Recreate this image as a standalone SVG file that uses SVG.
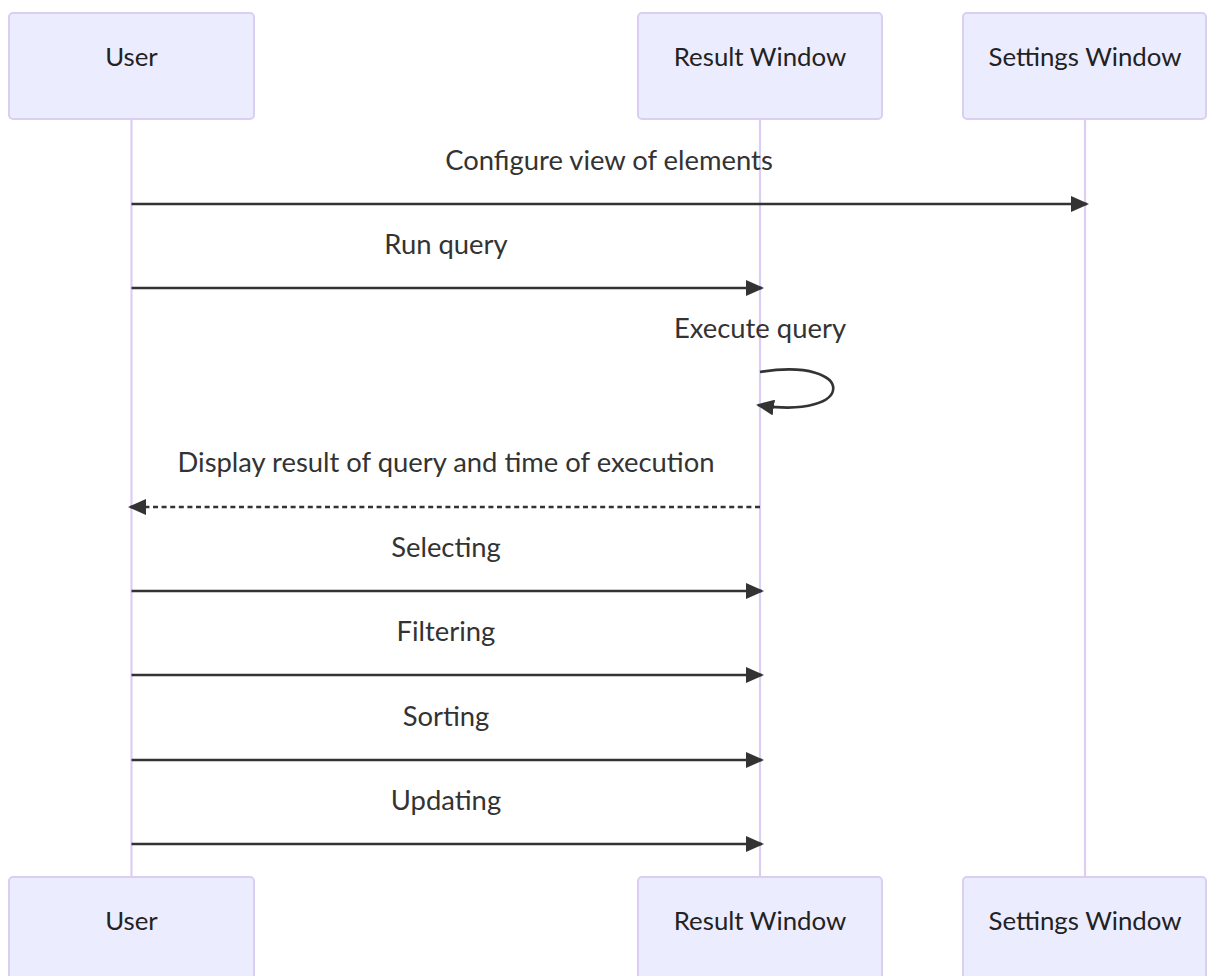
<svg xmlns="http://www.w3.org/2000/svg" width="1207" height="976" viewBox="0 0 1207 976">
<style>
.actor{fill:#ECECFF;stroke:#DACEF3;stroke-width:2}
.atext{font-family:Lato,"Liberation Sans",sans-serif;font-size:25.8px;fill:#222;text-anchor:middle}
.life{stroke:#DACEF3;stroke-width:2.2}
.msg{stroke:#333;stroke-width:2.6;fill:none}
.dash{stroke-dasharray:5,3.6}
.mtext{font-family:Lato,"Liberation Sans",sans-serif;font-size:27.4px;fill:#333;text-anchor:middle}
</style>
<defs>
<marker id="arrow" markerUnits="userSpaceOnUse" viewBox="0 0 18 16" refX="16" refY="8" markerWidth="18" markerHeight="16" orient="auto">
<path d="M0,0 L18,8 L0,16 Z" fill="#333"/>
</marker>
</defs>
<rect width="1207" height="976" fill="#fff"/>
<g id="lifelines">
<line class="life" x1="131.5" y1="119" x2="131.5" y2="877"/>
<line class="life" x1="760" y1="119" x2="760" y2="877"/>
<line class="life" x1="1085" y1="119" x2="1085" y2="877"/>
</g>
<g id="user-top"><rect class="actor" x="9" y="13" width="245" height="106" rx="4"/><text class="atext" x="131.5" y="66">User</text></g>
<g id="result-top"><rect class="actor" x="638" y="13" width="244" height="106" rx="4"/><text class="atext" x="760" y="66">Result Window</text></g>
<g id="settings-top"><rect class="actor" x="963" y="13" width="243" height="106" rx="4"/><text class="atext" x="1085" y="66">Settings Window</text></g>
<g id="user-bottom"><rect class="actor" x="9" y="877" width="245" height="106" rx="4"/><text class="atext" x="131.5" y="930">User</text></g>
<g id="result-bottom"><rect class="actor" x="638" y="877" width="244" height="106" rx="4"/><text class="atext" x="760" y="930">Result Window</text></g>
<g id="settings-bottom"><rect class="actor" x="963" y="877" width="243" height="106" rx="4"/><text class="atext" x="1085" y="930">Settings Window</text></g>
<g id="connectors">
<text class="mtext" x="609" y="170">Configure view of elements</text>
<line class="msg" x1="131.5" y1="204" x2="1087" y2="204" marker-end="url(#arrow)"/>
<text class="mtext" x="446" y="254">Run query</text>
<line class="msg" x1="131.5" y1="288" x2="762" y2="288" marker-end="url(#arrow)"/>
<text class="mtext" x="760" y="338">Execute query</text>
<path class="msg" d="M760,372 C858,356 858,421 758,405" marker-end="url(#arrow)"/>
<text class="mtext" x="446" y="472">Display result of query and time of execution</text>
<line class="msg dash" x1="760" y1="507" x2="130" y2="507" marker-end="url(#arrow)"/>
<text class="mtext" x="446" y="557">Selecting</text>
<line class="msg" x1="131.5" y1="591" x2="762" y2="591" marker-end="url(#arrow)"/>
<text class="mtext" x="446" y="641">Filtering</text>
<line class="msg" x1="131.5" y1="675" x2="762" y2="675" marker-end="url(#arrow)"/>
<text class="mtext" x="446" y="726">Sorting</text>
<line class="msg" x1="131.5" y1="760" x2="762" y2="760" marker-end="url(#arrow)"/>
<text class="mtext" x="446" y="810">Updating</text>
<line class="msg" x1="131.5" y1="844" x2="762" y2="844" marker-end="url(#arrow)"/>
</g>
</svg>
